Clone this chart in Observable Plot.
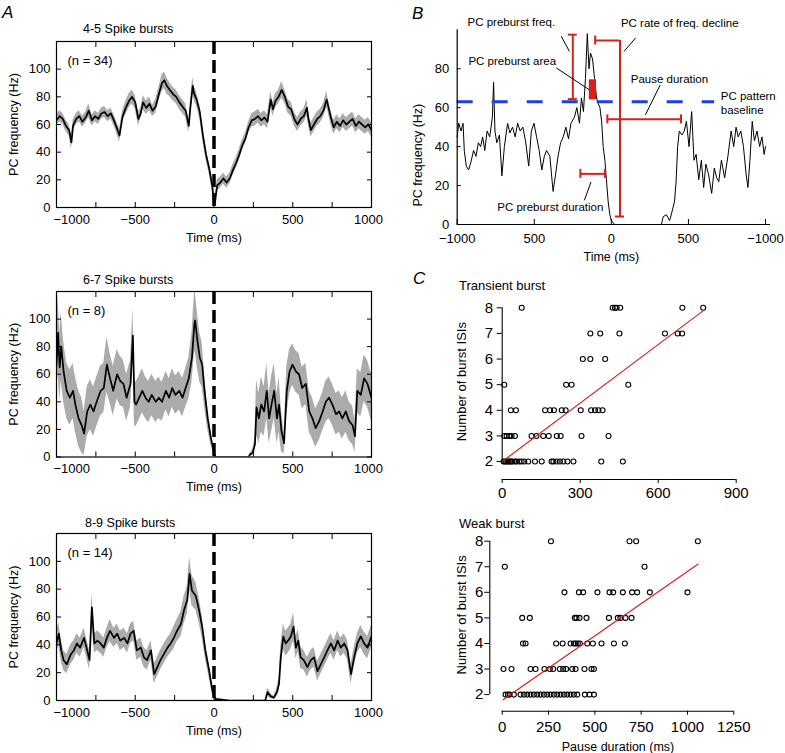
<!DOCTYPE html>
<html><head><meta charset="utf-8">
<script src="https://cdn.jsdelivr.net/npm/d3@7"></script>
<script src="https://cdn.jsdelivr.net/npm/@observablehq/plot@0.6"></script>
<style>
body{margin:0;background:#fff;}
#fig{position:relative;width:785px;height:753px;overflow:hidden;font-family:"Liberation Sans",Arial,sans-serif;color:#000;background:#fff;}
#fig svg{position:absolute;overflow:visible;}
.lbl{position:absolute;white-space:nowrap;line-height:1;transform:translateY(-50%);}
.letter{font-style:italic;font-size:17px;}
</style></head><body><div id="fig"></div><script>
// ---------------- DATA ----------------
// Panel A: [time ms, mean PC frequency Hz, s.e.m. Hz]
const a1 = [[-1000,63,4],[-980,66,4],[-960,64,4],[-940,59,4],[-920,56,4],[-905,47,5],[-895,59,4],[-875,64,4],[-855,66,4],[-835,62,4],[-815,65,4],[-795,70,5],[-775,63,4],[-755,66,4],[-735,64,4],[-715,68,4],[-695,69,4],[-675,66,4],[-655,68,4],[-635,63,4],[-615,57,4],[-600,52,5],[-580,66,4],[-560,72,5],[-540,77,5],[-520,80,5],[-500,76,5],[-480,64,5],[-465,68,4],[-450,76,5],[-430,72,5],[-410,75,5],[-390,70,4],[-370,73,5],[-350,82,5],[-330,90,6],[-315,92,6],[-300,88,6],[-280,85,5],[-260,82,5],[-240,80,5],[-220,76,5],[-200,73,5],[-180,70,5],[-160,59,5],[-150,72,5],[-135,88,6],[-125,82,5],[-110,78,5],[-90,69,5],[-70,52,5],[-50,38,4],[-30,28,4],[-10,15,4],[0,2,3],[5,2,3],[20,16,4],[40,18,4],[60,21,4],[80,18,4],[100,21,4],[120,27,4],[140,32,4],[160,38,4],[180,45,4],[200,50,4],[220,58,4],[240,63,5],[260,64,5],[280,66,5],[300,63,5],[320,65,5],[340,62,5],[360,78,6],[375,71,5],[390,77,5],[410,80,5],[430,85,6],[450,80,5],[470,73,5],[490,71,5],[510,64,5],[530,60,5],[550,64,5],[570,66,5],[590,72,6],[600,64,5],[615,56,5],[635,60,5],[655,64,5],[675,66,5],[695,70,5],[715,78,6],[720,76,5],[740,66,5],[760,58,5],[780,62,5],[800,59,5],[820,63,5],[840,60,5],[860,62,5],[880,64,5],[900,59,5],[920,62,5],[940,60,5],[960,58,5],[980,60,5],[1000,56,5]];
const a2 = [[-1000,67,25],[-990,90,28],[-980,65,25],[-970,80,25],[-955,62,22],[-935,48,20],[-915,43,20],[-895,48,20],[-880,38,20],[-860,28,20],[-840,23,20],[-825,17,16],[-805,33,18],[-785,38,18],[-765,33,18],[-745,40,18],[-720,48,18],[-700,50,18],[-680,67,20],[-660,57,18],[-640,48,18],[-615,60,18],[-595,55,18],[-575,53,17],[-555,43,17],[-530,53,17],[-515,88,20],[-505,40,17],[-495,38,16],[-475,43,16],[-455,48,16],[-435,43,15],[-415,40,15],[-395,45,15],[-370,40,15],[-350,43,15],[-330,40,14],[-305,48,14],[-285,43,14],[-265,50,14],[-245,45,14],[-220,48,14],[-200,43,14],[-180,50,14],[-160,57,15],[-140,72,18],[-125,96,22],[-120,99,22],[-105,84,20],[-90,72,18],[-75,67,16],[-60,48,12],[-40,28,8],[-20,14,5],[0,3,2],[10,0,0],[220,0,0],[230,2,1],[245,3,2],[260,9,5],[270,36,20],[285,28,18],[300,38,20],[318,33,18],[335,48,20],[350,28,18],[365,38,20],[382,48,20],[400,28,18],[413,38,20],[428,19,15],[445,10,8],[462,48,18],[480,62,16],[498,67,15],[520,62,15],[540,60,15],[560,50,15],[583,53,15],[605,33,15],[625,28,15],[645,21,14],[668,26,14],[690,33,14],[710,40,15],[730,43,15],[752,38,15],[775,31,15],[795,33,15],[815,28,15],[837,33,15],[858,26,14],[880,23,14],[895,15,12],[910,48,16],[932,45,16],[953,57,17],[975,53,17],[1000,43,17]];
const a3 = [[-1000,41,8],[-985,48,8],[-970,36,8],[-955,29,7],[-935,26,7],[-910,33,7],[-890,36,7],[-870,41,7],[-850,38,7],[-825,45,7],[-805,36,7],[-790,29,7],[-775,67,10],[-760,41,7],[-740,43,7],[-720,41,7],[-700,38,7],[-680,45,7],[-660,50,8],[-635,45,7],[-615,48,7],[-595,43,7],[-570,45,7],[-550,41,7],[-530,48,7],[-510,50,7],[-490,36,7],[-465,38,7],[-445,31,7],[-425,29,7],[-400,36,7],[-380,19,7],[-360,24,7],[-340,29,7],[-320,33,7],[-295,38,7],[-275,41,7],[-255,45,8],[-235,50,8],[-210,55,9],[-190,65,10],[-170,72,10],[-155,91,12],[-140,79,11],[-115,75,10],[-95,65,9],[-75,53,8],[-55,36,6],[-30,21,5],[-10,7,3],[10,1,1],[100,0,0],[325,0,0],[330,2,1],[340,6,3],[360,3,2],[380,2,1],[400,6,3],[413,12,5],[424,31,8],[440,46,9],[455,41,9],[470,43,9],[488,46,9],[505,53,10],[520,38,8],[535,43,8],[550,31,8],[570,29,7],[593,24,7],[615,29,7],[635,31,7],[657,21,7],[678,26,7],[700,31,7],[720,36,7],[742,41,7],[763,36,7],[785,43,7],[805,38,7],[827,41,7],[848,36,7],[870,19,7],[890,31,7],[910,41,7],[932,46,8],[953,41,8],[975,38,8],[1000,46,8]];
const aTitles = ["4-5 Spike bursts", "6-7 Spike bursts", "8-9 Spike bursts"];
const aCounts = ["(n = 34)", "(n = 8)", "(n = 14)"];
const aXMajor = [-1000, -500, 0, 500, 1000];
const aXMinor = [-1000, -750, -500, -250, 0, 250, 500, 750, 1000];
const aYTicks = [0, 20, 40, 60, 80, 100];

// Panel B: single example trace [time ms, Hz]
const bTrace = [[-1000,45],[-990,52],[-975,48],[-962,52],[-954,38],[-941,30],[-926,28],[-911,32],[-894,38],[-878,35],[-863,42],[-848,40],[-835,45],[-821,38],[-806,48],[-789,45],[-772,55],[-764,73],[-755,48],[-743,42],[-726,46],[-710,25],[-694,40],[-673,52],[-658,47],[-641,50],[-624,45],[-608,52],[-591,48],[-574,50],[-557,43],[-536,30],[-519,48],[-502,52],[-485,45],[-468,38],[-451,28],[-435,35],[-420,38],[-399,35],[-378,17],[-363,25],[-346,35],[-329,42],[-312,45],[-295,50],[-278,44],[-262,52],[-240,55],[-224,60],[-207,52],[-194,65],[-181,58],[-168,75],[-156,98],[-145,80],[-135,88],[-122,85],[-109,75],[-96,65],[-84,62],[-74,60],[-63,53],[-53,40],[-42,33],[-32,23],[-21,12],[-10,5],[0,2],[21,0],[325,0],[336,4],[357,5],[378,2],[395,7],[410,12],[420,22],[430,40],[441,48],[458,46],[473,48],[487,53],[504,40],[521,58],[536,33],[550,36],[567,23],[584,33],[599,19],[613,31],[630,26],[651,16],[668,29],[683,24],[697,22],[714,33],[735,24],[756,35],[777,48],[794,40],[809,50],[823,45],[840,48],[857,40],[874,26],[886,19],[899,33],[914,53],[928,43],[945,48],[962,40],[977,45],[991,36],[1000,40]];
const bBaseline = [[63, -1000, 670]];            // [Hz, x start, x end]
const bVBars = [[-250, 64.4, 97.5], [56, 4.1, 94.5]];   // [x, y1, y2]
const bHBars = [[54, -26, 452], [26, -201, -42], [94.5, -105, 56]]; // [y, x1, x2]
const bHCaps = [[-250, 64.4], [-250, 97.5], [56, 4.1]];  // [x, y]
const bVCaps = [[-26, 54], [452, 54], [-201, 26], [-42, 26], [-105, 94.5]]; // [x, y]
const bArea = [[-143, -96, 64, 74.3]];
const bLeaders = [[-325, 96.7, -272, 88.9], [-357, 80.4, -143, 69.2], [82, 88.9, 157, 95.8], [317, 71.7, 221, 56.3], [-132, 21.8, -175, 12.4]];
const bNotes = [[-933, 103.7, "PC preburst freq."], [62, 103.2, "PC rate of freq. decline"], [-927, 83.8, "PC preburst area"], [126, 74.8, "Pause duration"], [710, 65.7, "PC pattern"], [710, 58.8, "baseline"], [-740, 8.9, "PC preburst duration"]];
const bXTicks = [-1000, -500, 0, 500, 1000];
const bXTickLabels = ["−1000", "500", "0", "500", "−1000"];
const bYTicks = [0, 20, 40, 60, 80];

// Panel C: number of burst ISIs vs pause duration, [ISIs, [pause durations ms]]
const c1Levels = [[8,[75,425,434,440,454,693,773]],[7,[339,377,451,626,675,692]],[6,[310,339,396]],[5,[8,246,267,485]],[4,[33,53,165,184,199,229,244,302,342,357,370,386]],[3,[8,17,27,36,49,113,132,158,179,210,225,305,409]],[2,[5,10,15,20,25,30,35,40,50,55,65,75,85,100,126,152,190,197,210,222,235,251,274,381,464]]];
const c2Levels = [[8,[263,687,723,1056]],[7,[14,768]],[6,[336,414,437,514,579,599,651,701,728,797,1000]],[5,[108,149,392,401,417,455,576,624,638,665,698]],[4,[112,126,291,326,369,387,397,408,419,459,489,536,603,662]],[3,[7,50,153,180,228,257,275,311,329,345,378,396,444,482,495]],[2,[18,31,40,63,99,117,135,153,171,189,207,225,243,261,279,297,315,333,351,369,387,405,446,471,495]]];
const c1Fit = [[0, 2.0], [775, 7.9]];
const c2Fit = [[5, 1.8], [1056, 7.1]];
const c1XTicks = [0, 300, 600, 900];
const c2XTicks = [0, 250, 500, 750, 1000, 1250];
const cYTicks = [2, 3, 4, 5, 6, 7, 8];

// ---------------- DRAWING ----------------
const FONT = '"Liberation Sans", Arial, sans-serif';
const RED = "#d9201c";
const BLUE = "#1f3fe0";
const fmt = d => (d < 0 ? "−" : "") + Math.abs(d);
const fig = document.getElementById("fig");
function place(el, left, top) { el.style.left = left + "px"; el.style.top = top + "px"; fig.appendChild(el); }
function label(text, left, cy, size, cls) {
  const d = document.createElement("div");
  d.className = "lbl" + (cls ? " " + cls : "");
  d.textContent = text; d.style.fontSize = size + "px";
  d.style.left = left + "px"; d.style.top = cy + "px";
  fig.appendChild(d);
}

function panelA(rows, count, frameTop, frameBottom) {
  const data = rows.map(([t, v, s]) => ({t, v, lo: v - s, hi: v + s}));
  const mt = 20, mb = 45;
  const first = aXMajor[0], last = aXMajor[aXMajor.length - 1];
  const svg = Plot.plot({
    width: 390, height: frameBottom - frameTop + mt + mb,
    marginLeft: 56, marginRight: 19, marginTop: mt, marginBottom: mb,
    style: {fontFamily: FONT, fontSize: "13px", overflow: "visible", background: "transparent"},
    x: {domain: [-1000, 1000]}, y: {domain: [0, 120]},
    marks: [
      Plot.areaY(data, {x: "t", y1: "lo", y2: "hi", fill: "#ababab", clip: true}),
      Plot.lineY(data, {x: "t", y: "v", stroke: "#000", strokeWidth: 1.7, clip: true}),
      Plot.ruleX([0], {stroke: "#000", strokeWidth: 3.5, strokeDasharray: "13,6"}),
      Plot.frame({stroke: "#000", strokeWidth: 1.2}),
      Plot.axisX(aXMinor, {anchor: "bottom", tickSize: -5, tickFormat: () => "", label: null}),
      Plot.axisX(aXMinor, {anchor: "top", tickSize: -5, tickFormat: () => "", label: null}),
      Plot.axisX(aXMajor.filter(d => d !== first && d !== last), {anchor: "bottom", tickSize: 0, tickPadding: 7, label: null, fontSize: 13, tickFormat: fmt}),
      Plot.text([first], {x: d => d, text: fmt, frameAnchor: "bottom", dy: 12, dx: -3, textAnchor: "start", lineAnchor: "middle", fontSize: 13}),
      Plot.text([last], {x: d => d, text: fmt, frameAnchor: "bottom", dy: 12, dx: -3, textAnchor: "middle", lineAnchor: "middle", fontSize: 13}),
      Plot.axisY(aYTicks, {anchor: "left", tickSize: -5, tickPadding: 11, label: null, fontSize: 13}),
      Plot.axisY(aYTicks, {anchor: "right", tickSize: -5, tickFormat: () => "", label: null}),
      Plot.text([count], {frameAnchor: "top-left", dx: 11, dy: 19.5, textAnchor: "start", lineAnchor: "middle", fontSize: 13}),
      Plot.text(["Time (ms)"], {frameAnchor: "bottom", dy: 30, textAnchor: "middle", lineAnchor: "middle", fontSize: 12.5}),
      Plot.text(["PC frequency (Hz)"], {frameAnchor: "left", dx: -43, rotate: -90, textAnchor: "middle", lineAnchor: "middle", fontSize: 12.5})
    ]
  });
  place(svg, 0, frameTop - mt);
}
panelA(a1, aCounts[0], 41, 207);
panelA(a2, aCounts[1], 291, 456.5);
panelA(a3, aCounts[2], 533, 700);
label(aTitles[0], 83, 28.5, 12.5);
label(aTitles[1], 83, 280, 12.5);
label(aTitles[2], 85, 523, 12.5);

// Panel B
{
  const data = bTrace.map(([t, v]) => ({t, v}));
  const svg = Plot.plot({
    width: 385, height: 255, marginLeft: 56.7, marginRight: 20, marginTop: 14.3, marginBottom: 46,
    style: {fontFamily: FONT, fontSize: "13px", overflow: "visible", background: "transparent"},
    x: {domain: [-1000, 1000]}, y: {domain: [0, 100]},
    marks: [
      Plot.lineY(data, {x: "t", y: "v", stroke: "#000", strokeWidth: 1}),
      Plot.ruleY(bBaseline, {y: d => d[0], x1: d => d[1], x2: d => d[2], stroke: BLUE, strokeWidth: 3, strokeDasharray: "16,19"}),
      Plot.rect(bArea, {x1: d => d[0], x2: d => d[1], y1: d => d[2], y2: d => d[3], fill: RED}),
      Plot.ruleX(bVBars, {x: d => d[0], y1: d => d[1], y2: d => d[2], stroke: RED, strokeWidth: 2}),
      Plot.ruleY(bHBars, {y: d => d[0], x1: d => d[1], x2: d => d[2], stroke: RED, strokeWidth: 2}),
      Plot.ruleY(bHCaps, {y: d => d[1], x1: d => d[0], x2: d => d[0], insetLeft: -4.5, insetRight: -4.5, stroke: RED, strokeWidth: 2}),
      Plot.ruleX(bVCaps, {x: d => d[0], y1: d => d[1], y2: d => d[1], insetTop: -4.5, insetBottom: -4.5, stroke: RED, strokeWidth: 2}),
      Plot.link(bLeaders, {x1: d => d[0], y1: d => d[1], x2: d => d[2], y2: d => d[3], stroke: "#000", strokeWidth: 1}),
      Plot.text(bNotes, {x: d => d[0], y: d => d[1], text: d => d[2], textAnchor: "start", fontSize: 11.5}),
      Plot.ruleX([-1000], {stroke: "#000", strokeWidth: 1.2}),
      Plot.ruleY([0], {stroke: "#000", strokeWidth: 1.2, insetRight: -5}),
      Plot.axisX(bXTicks, {anchor: "bottom", tickSize: -5, tickPadding: 14.5, label: null, fontSize: 13,
        tickFormat: d => bXTickLabels[bXTicks.indexOf(d)]}),
      Plot.axisY(bYTicks, {anchor: "left", tickSize: -4, tickPadding: 12, label: null, fontSize: 13}),
      Plot.text(["Time (ms)"], {frameAnchor: "bottom", dy: 32, textAnchor: "middle", lineAnchor: "middle", fontSize: 12.5}),
      Plot.text(["PC frequency (Hz)"], {frameAnchor: "left", dx: -39, dy: 28, rotate: -90, textAnchor: "middle", lineAnchor: "middle", fontSize: 12.5})
    ]
  });
  place(svg, 400, 15);
}

// Panel C
function panelC(levels, fit, xTicks, xDomain, yDomain, pos, opts) {
  const pts = levels.flatMap(([y, xs]) => xs.map(x => ({x, y})));
  const marks = [
    Plot.dot(pts, {x: "x", y: "y", r: 2.5, stroke: "#000", strokeWidth: 1.1, fill: "none"}),
    Plot.line(fit, {x: d => d[0], y: d => d[1], stroke: RED, strokeWidth: 1.2}),
    Plot.ruleY([yDomain[0]], {x1: xTicks[0], x2: xTicks[xTicks.length - 1], stroke: "#000", strokeWidth: 1.1}),
    Plot.ruleX([xDomain[0]], {y1: cYTicks[0], y2: cYTicks[cYTicks.length - 1], stroke: "#000", strokeWidth: 1.1}),
    Plot.axisX(xTicks, {anchor: "bottom", tickSize: 4, tickPadding: opts.xPad, label: null, fontSize: 15, tickFormat: fmt}),
    Plot.axisY(cYTicks, {anchor: "left", tickSize: 5, tickPadding: opts.yPad, label: null, fontSize: 15}),
    Plot.text(["Number of burst ISIs"], {x: xDomain[0], y: 5, dx: opts.yLabelDx, dy: -3, rotate: -90, textAnchor: "middle", lineAnchor: "middle", fontSize: 13})
  ];
  if (opts.xLabel) marks.push(Plot.text([opts.xLabel], {frameAnchor: "bottom", x: (xTicks[0] + xTicks[xTicks.length - 1]) / 2, dy: 36, textAnchor: "middle", lineAnchor: "middle", fontSize: 12.5}));
  const svg = Plot.plot({
    width: pos.w, height: pos.h, marginLeft: pos.ml, marginRight: pos.mr, marginTop: pos.mt, marginBottom: pos.mb,
    style: {fontFamily: FONT, fontSize: "13px", overflow: "visible", background: "transparent"},
    x: {domain: xDomain}, y: {domain: yDomain},
    marks
  });
  place(svg, pos.left, pos.top);
}
panelC(c1Levels, c1Fit, c1XTicks, [0, 900], [1.3, 8],
  {left: 400, top: 270, w: 385, h: 230, ml: 101.7, mr: 49.3, mt: 37.3, mb: 21},
  {xPad: 4, yPad: 4, yLabelDx: -40});
panelC(c2Levels, c2Fit, c2XTicks, [-67, 1250], [1.35, 8],
  {left: 400, top: 500, w: 385, h: 253, ml: 89.3, mr: 51.7, mt: 40.7, mb: 42.3},
  {xPad: 6.5, yPad: 1.5, yLabelDx: -27.6, xLabel: "Pause duration (ms)"});
label("Transient burst", 459, 285, 13);
label("Weak burst", 459, 523, 13);

// panel letters
label("A", 2, 12, 17, "letter");
label("B", 412, 13, 17, "letter");
label("C", 413, 278, 17, "letter");
</script></body></html>
